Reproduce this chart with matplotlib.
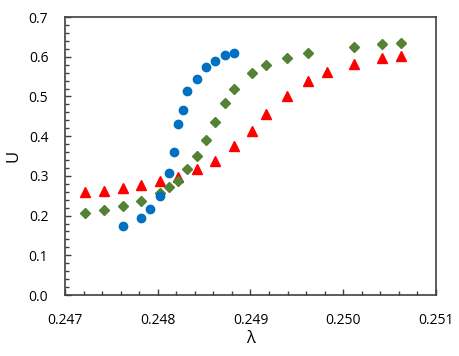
import matplotlib.pyplot as plt
from matplotlib.ticker import MultipleLocator, FormatStrFormatter

# blue circles
lam_blue = [0.24762, 0.24782, 0.24792, 0.24802, 0.24812, 0.24817, 0.24822, 0.24827,
            0.24832, 0.24842, 0.24852, 0.24862, 0.24872, 0.24882]
u_blue = [0.175, 0.193, 0.216, 0.249, 0.308, 0.361, 0.431, 0.467,
          0.514, 0.543, 0.574, 0.590, 0.604, 0.610]

# green diamonds
lam_green = [0.24722, 0.24742, 0.24762, 0.24782, 0.24802, 0.24812, 0.24822, 0.24832,
             0.24842, 0.24852, 0.24862, 0.24872, 0.24882, 0.24902, 0.24917, 0.24939,
             0.24962, 0.25012, 0.25042, 0.25062]
u_green = [0.206, 0.215, 0.225, 0.236, 0.256, 0.273, 0.288, 0.317,
           0.349, 0.391, 0.436, 0.483, 0.520, 0.558, 0.579, 0.597,
           0.609, 0.625, 0.631, 0.634]

# red triangles
lam_red = [0.24722, 0.24742, 0.24762, 0.24782, 0.24802, 0.24822, 0.24842, 0.24862,
           0.24882, 0.24902, 0.24917, 0.24939, 0.24962, 0.24982, 0.25012, 0.25042,
           0.25062]
u_red = [0.259, 0.262, 0.269, 0.278, 0.286, 0.298, 0.318, 0.338,
         0.375, 0.412, 0.456, 0.501, 0.540, 0.561, 0.582, 0.597,
         0.603]

plt.rcParams['font.family'] = ['Open Sans', 'DejaVu Sans']

fig = plt.figure(figsize=(4.6, 3.56), dpi=100)
ax = fig.add_axes([0.1413, 0.1713, 0.8065, 0.7809])

ax.plot(lam_red, u_red, ls='none', marker='^', ms=7.5, color='#FF0000', zorder=3)
ax.plot(lam_green, u_green, ls='none', marker='D', ms=5.5, color='#548235', zorder=4)
ax.plot(lam_blue, u_blue, ls='none', marker='o', ms=6, color='#0070C0', zorder=5)

ax.set_xlim(0.247, 0.251)
ax.set_ylim(0, 0.7)
ax.xaxis.set_major_locator(MultipleLocator(0.001))
ax.xaxis.set_minor_locator(MultipleLocator(0.0002))
ax.yaxis.set_major_locator(MultipleLocator(0.1))
ax.yaxis.set_minor_locator(MultipleLocator(0.02))
ax.xaxis.set_major_formatter(FormatStrFormatter('%.3f'))
ax.yaxis.set_major_formatter(FormatStrFormatter('%.1f'))
ax.tick_params(which='both', direction='in', color='#404040', labelsize=10, width=1)
ax.tick_params(which='major', length=4)
ax.tick_params(which='minor', length=3)
ax.tick_params(axis='x', which='major', pad=13)
ax.tick_params(axis='y', which='major', pad=12)
for s in ax.spines.values():
    s.set_color('#404040')
    s.set_linewidth(1.2)

ax.set_xlabel('λ', fontsize=12, labelpad=2)
ax.set_ylabel('U', fontsize=12, labelpad=5)

fig.savefig('out.png', dpi=100)
